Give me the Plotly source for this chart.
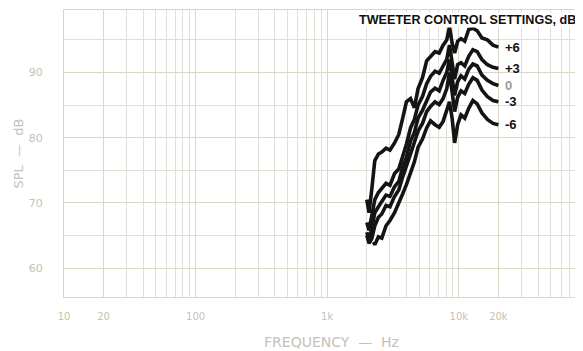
import math
import plotly.graph_objects as go

# frequency points (Hz)
freq = [2000, 2080, 2180, 2300, 2450, 2600, 2800, 3000, 3250, 3500, 3750, 4000,
        4300, 4600, 4900, 5300, 5700, 6100, 6600, 7100, 7600, 8100, 8500, 8900,
        9300, 9800, 10400, 11100, 11900, 12800, 13800, 15000, 16500, 18200, 20000]

spl_p6 = [70.5, 68.5, 72.0, 76.5, 77.5, 77.8, 78.4, 78.1, 79.2, 80.5, 83.0, 85.5,
          86.0, 84.6, 87.5, 89.2, 91.8, 92.4, 93.2, 93.0, 94.2, 95.0, 97.0, 94.5,
          93.0, 94.8, 95.2, 94.8, 96.6, 96.8, 96.4, 95.3, 95.0, 94.2, 93.9]
spl_p3 = [67.0, 65.8, 68.0, 70.5, 71.6, 72.3, 73.0, 72.7, 74.5, 75.2, 77.0, 79.0,
          81.5, 82.8, 85.0, 86.3, 88.3, 89.4, 90.2, 89.9, 91.0, 92.0, 94.2, 91.5,
          89.0, 91.2, 91.5, 91.0, 92.5, 93.5, 93.2, 92.0, 91.2, 90.8, 90.6]
spl_0 = [65.5, 64.3, 66.0, 68.5, 69.4, 70.2, 71.2, 71.0, 72.5, 73.3, 75.5, 77.0,
         79.5, 80.8, 83.0, 84.2, 85.8, 87.0, 87.6, 87.2, 88.8, 90.0, 92.0, 89.0,
         86.5, 88.6, 89.5, 89.0, 90.5, 91.3, 91.0, 89.6, 88.8, 88.3, 88.0]
spl_m3 = [65.0, 63.8, 64.5, 66.5, 67.8, 68.3, 69.6, 69.4, 71.0, 72.0, 74.0, 75.5,
          77.5, 79.3, 81.0, 82.2, 84.0, 84.8, 85.5, 85.1, 86.0, 87.5, 90.0, 87.0,
          84.0, 86.2, 87.2, 86.8, 88.2, 89.2, 88.8, 87.3, 86.3, 85.7, 85.5]

freq_m6 = [2250, 2300, 2450, 2600, 2800, 3000, 3250, 3500, 3750, 4000, 4300, 4600,
           4900, 5300, 5700, 6100, 6600, 7100, 7600, 8100, 8500, 8900, 9300, 9800,
           10400, 11100, 11900, 12800, 13800, 15000, 16500, 18200, 20000]
spl_m6 = [64.0, 63.6, 64.8, 64.6, 66.5, 67.3, 68.5, 70.2, 71.4, 72.8, 74.5, 76.3,
          78.5, 79.8, 81.5, 82.6, 82.0, 81.6, 82.5, 84.0, 85.5, 83.0, 79.2, 82.0,
          83.5, 83.0, 84.5, 85.7, 85.2, 83.8, 82.8, 82.2, 82.0]

settings = ["+6", "+3", "0", "-3", "-6"]
x_ticks = [10, 20, 100, 1000, 10000, 20000]
x_labels = ["10", "20", "100", "1k", "10k", "20k"]
y_ticks = [60, 70, 80, 90]

curves = [(freq, spl_p6), (freq, spl_p3), (freq, spl_0), (freq, spl_m3), (freq_m6, spl_m6)]

fig = go.Figure()
for name, (f, s) in zip(settings, curves):
    fig.add_trace(go.Scatter(x=f, y=s, mode="lines", name=name,
                             line=dict(color="#141414", width=3.6)))
    fig.add_annotation(x=math.log10(f[-1]), y=s[-1], text="<b>" + name + "</b>",
                       showarrow=False, xanchor="left", xshift=5,
                       font=dict(family="Liberation Sans", size=13,
                                 color="#9a9a9a" if name == "0" else "#111111"))

fig.add_annotation(x=1.0, y=1.0, xref="paper", yref="paper",
                   text="<b>TWEETER CONTROL SETTINGS, dB</b>",
                   showarrow=False, xanchor="right", yanchor="top", xshift=-6, yshift=-2,
                   bgcolor="white", borderpad=0,
                   font=dict(family="Liberation Sans", size=12.6, color="#111111"))

fig.add_annotation(x=0.5, y=0, xref="paper", yref="paper", text="FREQUENCY  —  Hz",
                   showarrow=False, yanchor="middle", yshift=-45, xshift=8,
                   font=dict(family="DejaVu Sans", size=14, color="#c4c2b6"))
fig.add_annotation(x=0, y=0.5, xref="paper", yref="paper", text="SPL  —  dB", textangle=-90,
                   showarrow=False, xanchor="center", xshift=-46, yshift=0,
                   font=dict(family="DejaVu Sans", size=13, color="#c4c2b6"))

minor_x = [m * 10 ** d for d in range(1, 5) for m in range(2, 10)
           if m * 10 ** d not in x_ticks]

grid = "#e0e0d8"
fig.update_xaxes(type="log", range=[1.0, 4.944], tickvals=x_ticks, ticktext=x_labels,
                 showgrid=True, gridcolor="#d8d8c8", gridwidth=1,
                 minor=dict(tickvals=minor_x, showgrid=True, gridcolor=grid, gridwidth=1),
                 showline=True, linecolor="#d6d6ce", mirror=True, zeroline=False,
                 ticks="", ticklabelstandoff=10,
                 tickfont=dict(family="DejaVu Sans", size=10, color="#c4c2b6"))
fig.update_yaxes(range=[55.57, 99.59], tickvals=y_ticks, showgrid=True,
                 gridcolor="#d8d8c8", gridwidth=1,
                 minor=dict(dtick=5, showgrid=True, gridcolor=grid, gridwidth=1),
                 showline=True, linecolor="#d6d6ce", mirror=False, zeroline=False,
                 ticks="", ticklabelstandoff=18,
                 tickfont=dict(family="DejaVu Sans", size=11, color="#c4c2b6"))

# the page puts the figure 8 px in from the top-left corner
fig.update_layout(width=575, height=343, margin=dict(l=56, r=0, t=2, b=54),
                  plot_bgcolor="white", paper_bgcolor="white", showlegend=False)

fig.write_html("out.html")
